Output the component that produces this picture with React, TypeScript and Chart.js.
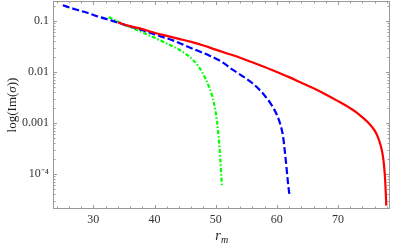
import React, { useEffect, useRef } from "react";
import { Chart, registerables } from "chart.js";

Chart.register(...registerables);

// ---- data ----
const redR = [34, 36, 38, 40, 42, 44, 46, 48, 50, 52, 54, 56, 58, 60, 62, 64, 66, 68, 70, 72, 73, 74, 75, 76, 76.5, 77, 77.3, 77.5, 77.7, 77.9];
const redIm = [0.0933, 0.0794, 0.0692, 0.0589, 0.0513, 0.0447, 0.0389, 0.0331, 0.0275, 0.0229, 0.0191, 0.0155, 0.0126, 0.01, 0.00794, 0.00617, 0.00479, 0.00363, 0.00269, 0.00195, 0.00162, 0.00129, 0.001, 0.000708, 0.000537, 0.000355, 0.00024, 0.000158, 0.0000794, 0.000024];

const blueR = [25, 27, 29, 31, 33, 35, 37, 39, 41, 43, 45, 47, 49, 51, 52.5, 54, 55, 56, 57, 58, 59, 60, 60.5, 61, 61.3, 61.6, 61.8, 62.1];
const blueIm = [0.204, 0.17, 0.145, 0.12, 0.102, 0.0851, 0.0724, 0.0603, 0.0501, 0.0417, 0.0331, 0.0263, 0.0209, 0.0158, 0.0117, 0.00891, 0.00741, 0.00603, 0.00468, 0.00347, 0.0024, 0.00145, 0.001, 0.000562, 0.000282, 0.000126, 0.0000708, 0.0000355];

const greenR = [32.5, 34, 36, 38, 40, 42, 44, 45.5, 47, 48, 49, 49.7, 50.2, 50.5, 50.75, 51.0];
const greenIm = [0.12, 0.0977, 0.0759, 0.0603, 0.0468, 0.0363, 0.0275, 0.0209, 0.0138, 0.00891, 0.00479, 0.00251, 0.00112, 0.000501, 0.0002, 0.0000603];

const xTicks = [30, 40, 50, 60, 70];
const yTicks = [1e-4, 1e-3, 1e-2, 1e-1];
const yTickLabels = ["10\u207B\u2074", "0.001", "0.01", "0.1"];

const X_MIN = 23.4;
const X_MAX = 78.5;
const Y_MIN = 2.06e-5;
const Y_MAX = 0.247;

const SERIF = "'Liberation Serif', 'Times New Roman', serif";

const toPts = (xs: number[], ys: number[]) => xs.map((x, i) => ({ x, y: ys[i] }));

const framePlugin = {
  id: "mmaFrame",
  afterDraw(chart: any) {
    const { ctx, chartArea: a, scales } = chart;
    const xs = scales.x;
    const ys = scales.y;
    ctx.save();
    ctx.strokeStyle = "#9a9a9a";
    ctx.lineWidth = 1;
    ctx.strokeRect(a.left + 0.5, a.top + 0.5, a.right - a.left - 1, a.bottom - a.top - 1);
    const line = (x1: number, y1: number, x2: number, y2: number) => {
      ctx.beginPath();
      ctx.moveTo(x1, y1);
      ctx.lineTo(x2, y2);
      ctx.stroke();
    };
    for (let v = 24; v <= 78; v += 2) {
      const px = Math.round(xs.getPixelForValue(v)) + 0.5;
      const len = v % 10 === 0 ? 4 : 2.5;
      line(px, a.bottom, px, a.bottom - len);
      line(px, a.top, px, a.top + len);
    }
    for (let e = -5; e <= -1; e++) {
      for (let k = 1; k <= 9; k++) {
        const v = k * Math.pow(10, e);
        if (v < Y_MIN || v > Y_MAX) continue;
        const py = Math.round(ys.getPixelForValue(v)) + 0.5;
        const len = k === 1 ? 4 : 2.5;
        line(a.left, py, a.left + len, py);
        line(a.right, py, a.right - len, py);
      }
    }
    // x title: r_m
    ctx.fillStyle = "#222";
    ctx.textBaseline = "alphabetic";
    ctx.textAlign = "left";
    const cx = (a.left + a.right) / 2;
    ctx.font = `italic 14px ${SERIF}`;
    const rw = ctx.measureText("r").width;
    ctx.font = `italic 10px ${SERIF}`;
    const mw = ctx.measureText("m").width;
    const startX = cx - (rw + mw) / 2;
    ctx.font = `italic 14px ${SERIF}`;
    ctx.fillText("r", startX, 240);
    ctx.font = `italic 10px ${SERIF}`;
    ctx.fillText("m", startX + rw + 0.5, 243);
    // y title: log(Im(σ))
    ctx.translate(16, (a.top + a.bottom) / 2);
    ctx.rotate(-Math.PI / 2);
    const parts: [string, string][] = [["log(Im(", ""], ["\u03C3", "italic "], ["))", ""]];
    let total = 0;
    for (const [t, st] of parts) {
      ctx.font = `${st}13px ${SERIF}`;
      total += ctx.measureText(t).width;
    }
    let px = -total / 2;
    for (const [t, st] of parts) {
      ctx.font = `${st}13px ${SERIF}`;
      ctx.fillText(t, px, 0);
      px += ctx.measureText(t).width;
    }
    ctx.restore();
  },
};

export default function App() {
  const ref = useRef<HTMLCanvasElement | null>(null);
  useEffect(() => {
    document.body.style.margin = "0";
    const canvas = ref.current;
    if (!canvas) return;
    const lineStyle = { pointRadius: 0, cubicInterpolationMode: "monotone", fill: false, borderWidth: 2.2 };
    const chart = new Chart(canvas, {
      type: "line",
      data: {
        datasets: [
          { label: "red", data: toPts(redR, redIm), borderColor: "#ff0000", ...lineStyle },
          { label: "blue", data: toPts(blueR, blueIm), borderColor: "#0000ff", borderDash: [7, 3], ...lineStyle },
          { label: "green", data: toPts(greenR, greenIm), borderColor: "#00ff00", borderDash: [4, 2, 1.5, 2], ...lineStyle },
        ],
      },
      options: {
        animation: false,
        responsive: false,
        maintainAspectRatio: false,
        devicePixelRatio: 1,
        layout: { padding: { top: 1, right: 5, left: 0, bottom: 0 } },
        plugins: { legend: { display: false }, tooltip: { enabled: false } },
        scales: {
          x: {
            type: "linear",
            min: X_MIN,
            max: X_MAX,
            grid: { display: false, drawTicks: false },
            border: { display: false },
            afterBuildTicks: (s: any) => {
              s.ticks = xTicks.map((v) => ({ value: v }));
            },
            afterFit: (s: any) => {
              s.height = 40;
              s.paddingLeft = 0;
              s.paddingRight = 0;
            },
            ticks: {
              autoSkip: false,
              maxRotation: 0,
              padding: 4,
              color: "#333",
              font: { family: SERIF, size: 12 },
              callback: (v: any) => String(v),
            },
          },
          y: {
            type: "logarithmic",
            min: Y_MIN,
            max: Y_MAX,
            grid: { display: false, drawTicks: false },
            border: { display: false },
            afterBuildTicks: (s: any) => {
              s.ticks = yTicks.map((v) => ({ value: v }));
            },
            afterFit: (s: any) => {
              s.width = 53;
              s.paddingTop = 0;
              s.paddingBottom = 0;
            },
            ticks: {
              autoSkip: false,
              padding: 4,
              color: "#333",
              font: { family: SERIF, size: 12 },
              callback: (v: any) => {
                const i = yTicks.findIndex((t) => Math.abs(t - v) / t < 1e-6);
                return i >= 0 ? yTickLabels[i] : "";
              },
            },
          },
        },
      },
      plugins: [framePlugin],
    } as any);
    return () => chart.destroy();
  }, []);
  return <canvas ref={ref} width={395} height={249} style={{ display: "block", width: 395, height: 249 }} />;
}
